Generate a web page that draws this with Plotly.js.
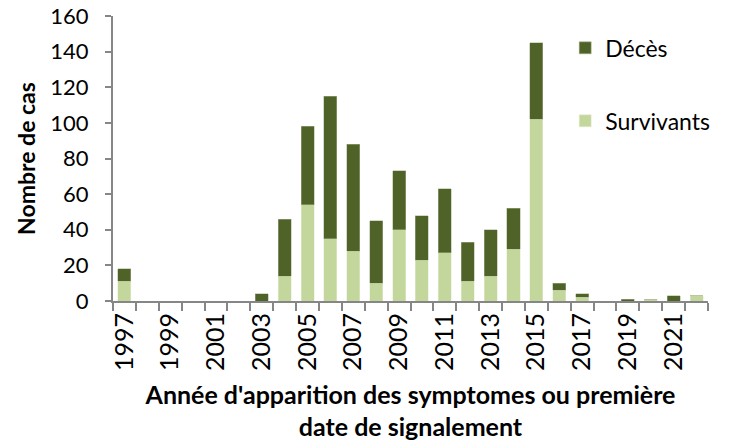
<!DOCTYPE html>
<html>
<head>
<meta charset="utf-8">
<script src="https://cdn.plot.ly/plotly-3.0.1.min.js"></script>
<style>html,body{margin:0;padding:0;background:#fff;}#chart{width:733px;height:441px;}</style>
</head>
<body>
<div id="chart"></div>
<script>
const years = ["1997","1998","1999","2000","2001","2002","2003","2004","2005","2006","2007","2008","2009","2010","2011","2012","2013","2014","2015","2016","2017","2018","2019","2020","2021","2022"];
const survivants = [11,0,0,0,0,0,0,14,54,35,28,10,40,23,27,11,14,29,102,6,2,0,0,1,0,3];
const deces =      [7,0,0,0,0,0,4,32,44,80,60,35,33,25,36,22,26,23,43,4,2,0,1,0,3,0];
const tickLabels = ["1997","","1999","","2001","","2003","","2005","","2007","","2009","","2011","","2013","","2015","","2017","","2019","","2021",""];

const darkGreen = "#4F6228";
const lightGreen = "#C3D69B";
const axisGray = "#868686";
const font = "Lato, 'Open Sans', sans-serif";

const traces = [
  {type:"bar", name:"Survivants", x:years, y:survivants, marker:{color:lightGreen, line:{color:"#e6eed4", width:0.5}}, legend:"legend2"},
  {type:"bar", name:"Décès", x:years, y:deces, marker:{color:darkGreen, line:{color:"#a9b48f", width:0.5}}, legend:"legend"}
];

const layout = {
  width:733, height:441,
  margin:{l:113, r:25, t:16, b:140},
  barmode:"stack", bargap:0.43,
  paper_bgcolor:"#fff", plot_bgcolor:"#fff",
  font:{family:font, size:22, color:"#000"},
  xaxis:{
    type:"category", tickmode:"array", tickvals:years, ticktext:tickLabels,
    tickson:"boundaries", ticks:"outside", ticklen:8, tickwidth:2, tickcolor:axisGray,
    showline:true, linecolor:axisGray, linewidth:2, tickangle:-90, automargin:false,
    tickfont:{family:font, size:25, color:"#000"}, showgrid:false, zeroline:false,
    title:{text:"<b>Année d'apparition des symptomes ou première<br>date de signalement</b>", font:{family:font, size:25, color:"#000"}, standoff:17}
  },
  yaxis:{
    range:[0,160], dtick:20, ticks:"outside", ticklen:6, tickwidth:2, tickcolor:axisGray,
    showline:true, linecolor:axisGray, linewidth:2, showgrid:false, zeroline:false,
    ticklabelstandoff:12, automargin:false,
    tickfont:{family:font, size:22, color:"#000"},
    title:{text:"<b>Nombre de cas</b>", font:{family:font, size:23, color:"#000"}, standoff:8}
  },
  legend:{x:0.76, y:0.888, xanchor:"left", yanchor:"middle", bgcolor:"rgba(0,0,0,0)", font:{family:font, size:23, color:"#000"}},
  legend2:{x:0.76, y:0.632, xanchor:"left", yanchor:"middle", bgcolor:"rgba(0,0,0,0)", font:{family:font, size:23, color:"#000"}},
  showlegend:true
};

Plotly.newPlot("chart", traces, layout, {displayModeBar:false, staticPlot:true});
</script>
</body>
</html>
